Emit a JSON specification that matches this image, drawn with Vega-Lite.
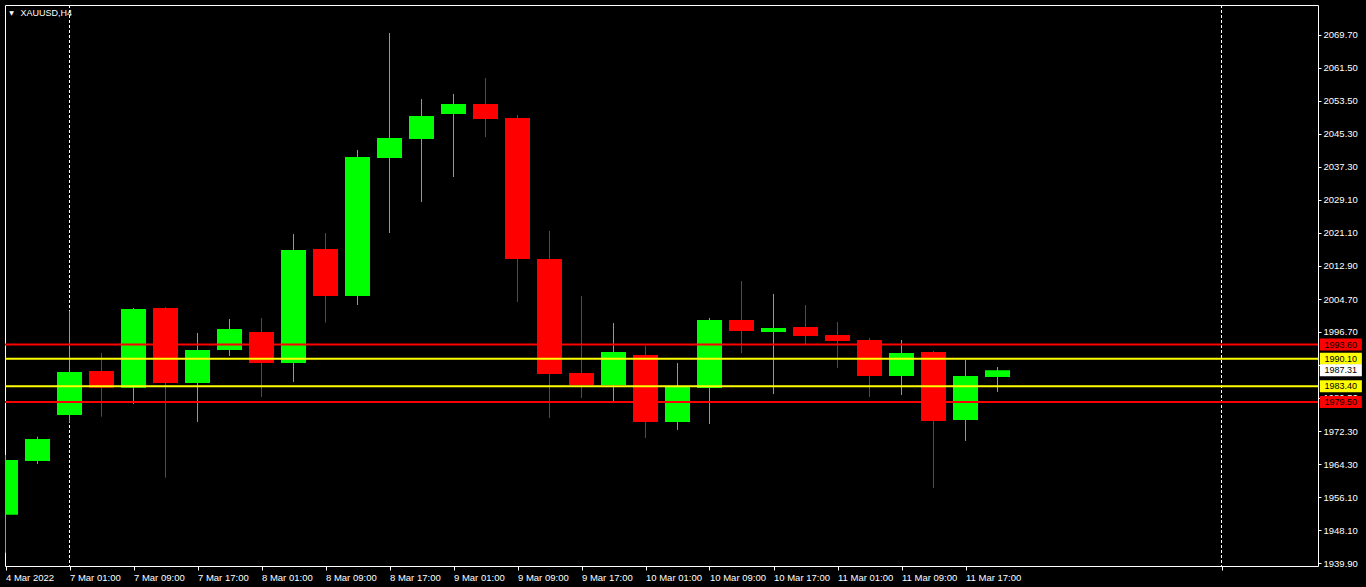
{
  "$schema": "https://vega.github.io/schema/vega-lite/v6.json",
  "width": 1313,
  "height": 561,
  "autosize": {"type": "none"},
  "padding": {"left": 5, "top": 5, "right": 48, "bottom": 21},
  "background": "#000000",
  "config": {
    "view": {"fill": "#000000", "stroke": "#FFFFFF", "strokeWidth": 1},
    "font": "Liberation Sans",
    "axis": {"labelOverlap": false, "labelBound": false, "labelFlush": false, "grid": false, "domain": false},
    "scale": {"continuousPadding": 0}
  },
  "datasets": {
    "candles": [
      {"i": 0, "time": "4 Mar 17:00", "open": 1951.85, "high": 1966.51, "low": 1942.53, "close": 1965.28},
      {"i": 1, "time": "4 Mar 21:00", "open": 1965.04, "high": 1971.00, "low": 1964.30, "close": 1970.44},
      {"i": 2, "time": "7 Mar 01:00", "open": 1976.33, "high": 2001.85, "low": 1974.44, "close": 1986.88},
      {"i": 3, "time": "7 Mar 05:00", "open": 1987.12, "high": 1991.54, "low": 1975.91, "close": 1983.03},
      {"i": 4, "time": "7 Mar 09:00", "open": 1983.03, "high": 2002.58, "low": 1979.03, "close": 2002.34},
      {"i": 5, "time": "7 Mar 13:00", "open": 2002.58, "high": 2002.80, "low": 1960.94, "close": 1984.18},
      {"i": 6, "time": "7 Mar 17:00", "open": 1984.18, "high": 1996.45, "low": 1974.61, "close": 1992.28},
      {"i": 7, "time": "7 Mar 21:00", "open": 1992.28, "high": 1999.89, "low": 1990.80, "close": 1997.43},
      {"i": 8, "time": "8 Mar 01:00", "open": 1996.69, "high": 2000.13, "low": 1980.74, "close": 1989.08},
      {"i": 9, "time": "8 Mar 05:00", "open": 1989.08, "high": 2020.74, "low": 1984.42, "close": 2016.82},
      {"i": 10, "time": "8 Mar 09:00", "open": 2017.06, "high": 2020.99, "low": 1998.98, "close": 2005.53},
      {"i": 11, "time": "8 Mar 13:00", "open": 2005.53, "high": 2041.36, "low": 2003.32, "close": 2039.64},
      {"i": 12, "time": "8 Mar 17:00", "open": 2039.39, "high": 2070.07, "low": 2020.99, "close": 2044.30},
      {"i": 13, "time": "8 Mar 21:00", "open": 2044.06, "high": 2053.87, "low": 2028.60, "close": 2049.70},
      {"i": 14, "time": "9 Mar 01:00", "open": 2050.19, "high": 2055.10, "low": 2034.73, "close": 2052.65},
      {"i": 15, "time": "9 Mar 05:00", "open": 2052.65, "high": 2059.02, "low": 2044.55, "close": 2048.96},
      {"i": 16, "time": "9 Mar 09:00", "open": 2049.20, "high": 2049.94, "low": 2004.06, "close": 2014.61},
      {"i": 17, "time": "9 Mar 13:00", "open": 2014.61, "high": 2021.48, "low": 1975.59, "close": 1986.39},
      {"i": 18, "time": "9 Mar 17:00", "open": 1986.63, "high": 2005.53, "low": 1980.49, "close": 1983.69},
      {"i": 19, "time": "9 Mar 21:00", "open": 1983.69, "high": 1998.90, "low": 1979.76, "close": 1991.79},
      {"i": 20, "time": "10 Mar 01:00", "open": 1991.05, "high": 1993.26, "low": 1970.68, "close": 1974.61},
      {"i": 21, "time": "10 Mar 05:00", "open": 1974.61, "high": 1989.08, "low": 1972.65, "close": 1983.44},
      {"i": 22, "time": "10 Mar 09:00", "open": 1982.95, "high": 2000.13, "low": 1974.12, "close": 1999.64},
      {"i": 23, "time": "10 Mar 13:00", "open": 1999.64, "high": 2009.21, "low": 1991.54, "close": 1996.94},
      {"i": 24, "time": "10 Mar 17:00", "open": 1996.69, "high": 2006.02, "low": 1981.48, "close": 1997.68},
      {"i": 25, "time": "10 Mar 21:00", "open": 1997.92, "high": 2003.32, "low": 1993.75, "close": 1995.71},
      {"i": 26, "time": "11 Mar 01:00", "open": 1995.96, "high": 1999.15, "low": 1987.86, "close": 1994.49},
      {"i": 27, "time": "11 Mar 05:00", "open": 1994.73, "high": 1995.22, "low": 1980.74, "close": 1985.90},
      {"i": 28, "time": "11 Mar 09:00", "open": 1985.90, "high": 1994.73, "low": 1981.23, "close": 1991.54},
      {"i": 29, "time": "11 Mar 13:00", "open": 1991.79, "high": 1992.03, "low": 1958.41, "close": 1974.86},
      {"i": 30, "time": "11 Mar 17:00", "open": 1975.10, "high": 1989.82, "low": 1969.95, "close": 1985.90},
      {"i": 31, "time": "11 Mar 21:00", "open": 1985.65, "high": 1988.10, "low": 1981.97, "close": 1987.31}
    ],
    "levels": [
      {"level": 1993.60, "kind": "outer"},
      {"level": 1990.10, "kind": "inner"},
      {"level": 1983.40, "kind": "inner"},
      {"level": 1979.50, "kind": "outer"},
      {"level": 1987.31, "kind": "bid"}
    ],
    "separators": [
      {"i": 2},
      {"i": 38}
    ]
  },
  "layer": [
    {
      "data": {"name": "separators"},
      "mark": {"type": "rule", "color": "#FFFFFF", "strokeWidth": 1, "strokeDash": [3, 2]},
      "encoding": {
        "x": {
          "field": "i",
          "type": "quantitative",
          "title": null,
          "scale": {"domain": [-0.015625, 41.015625], "nice": false, "zero": false, "padding": 0},
          "axis": {
            "values": [0, 2, 4, 6, 8, 10, 12, 14, 16, 18, 20, 22, 24, 26, 28, 30, 38],
            "tickCount": 60,
            "labelExpr": "datum.value > 30 ? '' : ['4 Mar 2022','','7 Mar 01:00','','7 Mar 09:00','','7 Mar 17:00','','8 Mar 01:00','','8 Mar 09:00','','8 Mar 17:00','','9 Mar 01:00','','9 Mar 09:00','','9 Mar 17:00','','10 Mar 01:00','','10 Mar 09:00','','10 Mar 17:00','','11 Mar 01:00','','11 Mar 09:00','','11 Mar 17:00'][datum.value]",
            "labelAlign": "left",
            "labelBaseline": "top",
            "labelColor": "#FFFFFF",
            "labelFont": "Liberation Sans",
            "labelFontSize": 9.5,
            "labelPadding": 2,
            "labelFlush": false,
            "labelOverlap": false,
            "labelBound": false,
            "tickColor": "#FFFFFF",
            "tickSize": 4,
            "domain": false,
            "grid": false
          }
        }
      }
    },
    {
      "data": {"name": "candles"},
      "mark": {"type": "rule", "strokeWidth": 1, "clip": true},
      "encoding": {
        "x": {"field": "i", "type": "quantitative", "title": null},
        "y": {
          "field": "low",
          "type": "quantitative",
          "title": null,
          "scale": {"domain": [1939.27, 2076.94], "nice": false, "zero": false, "padding": 0},
          "axis": {
            "orient": "right",
            "values": [2069.7, 2061.5, 2053.5, 2045.3, 2037.3, 2029.1, 2021.1, 2012.9, 2004.7, 1996.7, 1988.5, 1980.5, 1972.3, 1964.3, 1956.1, 1948.1, 1939.9],
            "tickCount": 40,
            "format": ".2f",
            "labelColor": "#FFFFFF",
            "labelFont": "Liberation Sans",
            "labelFontSize": 9.5,
            "labelPadding": 2,
            "labelFlush": false,
            "labelOverlap": false,
            "labelBound": false,
            "tickColor": "#FFFFFF",
            "tickSize": 3,
            "domain": false,
            "grid": false
          }
        },
        "y2": {"field": "high"},
        "color": {"condition": {"test": "datum.close >= datum.open", "value": "#00FF00"}, "value": "#FF0000"}
      }
    },
    {
      "data": {"name": "candles"},
      "mark": {"type": "bar", "size": 25, "clip": true},
      "encoding": {
        "x": {"field": "i", "type": "quantitative", "title": null},
        "y": {"field": "open", "type": "quantitative", "title": null},
        "y2": {"field": "close"},
        "color": {"condition": {"test": "datum.close >= datum.open", "value": "#00FF00"}, "value": "#FF0000"}
      }
    },
    {
      "data": {"name": "levels"},
      "transform": [{"filter": "datum.kind != 'bid'"}],
      "mark": {"type": "rule", "strokeWidth": 2},
      "encoding": {
        "y": {"field": "level", "type": "quantitative", "title": null},
        "color": {
          "field": "kind",
          "type": "nominal",
          "scale": {"domain": ["outer", "inner", "bid"], "range": ["#FF0000", "#FFFF00", "#FFFFFF"]},
          "legend": null
        }
      }
    },
    {
      "data": {"name": "levels"},
      "mark": {"type": "tick", "orient": "horizontal", "size": 42, "thickness": 12, "opacity": 1},
      "encoding": {
        "x": {"datum": 41.73, "type": "quantitative"},
        "y": {"field": "level", "type": "quantitative", "title": null},
        "color": {"field": "kind", "type": "nominal", "legend": null}
      }
    },
    {
      "data": {"name": "levels"},
      "mark": {"type": "text", "align": "center", "baseline": "middle", "color": "#000000", "font": "Liberation Sans", "fontSize": 9},
      "encoding": {
        "x": {"datum": 41.73, "type": "quantitative"},
        "y": {"field": "level", "type": "quantitative", "title": null},
        "text": {"field": "level", "type": "quantitative", "format": ".2f"}
      }
    },
    {
      "data": {"values": [{"symbol": "XAUUSD,H4"}]},
      "mark": {"type": "text", "align": "left", "baseline": "middle", "color": "#FFFFFF", "font": "Liberation Sans", "fontSize": 9},
      "encoding": {
        "x": {"datum": 0.47, "type": "quantitative"},
        "y": {"datum": 2074.97, "type": "quantitative"},
        "text": {"field": "symbol"}
      }
    },
    {
      "data": {"values": [{"marker": "▼"}]},
      "mark": {"type": "text", "align": "center", "baseline": "middle", "color": "#FFFFFF", "font": "DejaVu Sans", "fontSize": 6},
      "encoding": {
        "x": {"datum": 0.19, "type": "quantitative"},
        "y": {"datum": 2074.97, "type": "quantitative"},
        "text": {"field": "marker"}
      }
    }
  ]
}
